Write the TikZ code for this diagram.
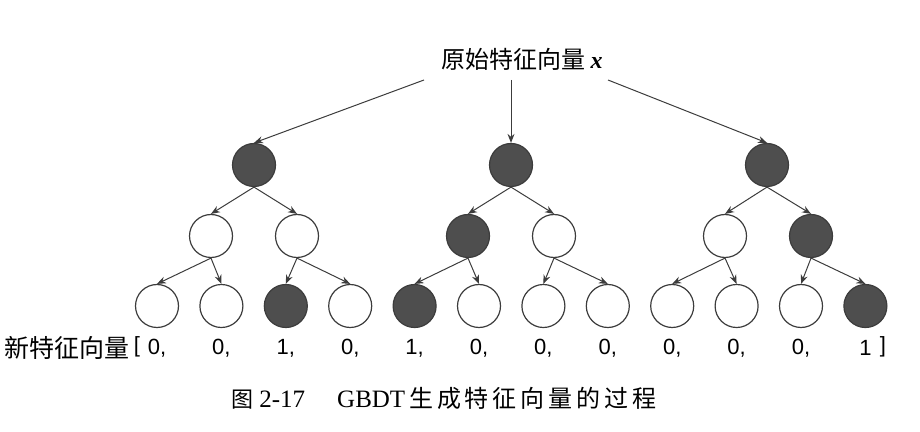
\documentclass[tikz,border=0pt]{standalone}
\usepackage{fontspec}
\setmainfont{Liberation Sans}
\newfontfamily\cjk{Noto Sans CJK SC}
\newfontfamily\cjkcap[LetterSpace=16]{Noto Sans CJK SC}
\newfontfamily\capserif{Liberation Serif}
\usetikzlibrary{arrows.meta}
\definecolor{nodegray}{RGB}{78,78,78}
\definecolor{linegray}{RGB}{60,60,60}
\tikzset{
  leaf/.style={circle,draw=linegray,line width=0.6pt,minimum size=21.5pt,inner sep=0pt},
  hit/.style={leaf,fill=nodegray},
  edge/.style={draw=linegray,line width=0.5pt,-{Stealth[length=4.5pt,width=3.5pt]}},
  val/.style={font=\fontsize{11}{13}\selectfont,inner sep=0pt}
}

\begin{document}
\begin{tikzpicture}[x=0.5pt,y=-0.5pt]
    \useasboundingbox (0,0) rectangle (920,432);
    % input vector
    \node[font=\cjk\fontsize{12}{14}\selectfont] (src) at (522,59) {原始特征向量 {\capserif\bfseries\itshape x}};
    \coordinate (in1) at (424,80);
    \coordinate (in2) at (511,80);
    \coordinate (in3) at (608,80);
    % trees
    \foreach \t/\rx in {1/254,2/511,3/767}
        \node[hit] (r\t) at (\rx,165) {};
    \foreach \i/\mx/\s in {1/211/leaf,2/297/leaf,3/468/hit,4/554/leaf,5/725/leaf,6/811/hit}
        \node[\s] (m\i) at (\mx,236) {};
    \foreach \i/\s/\v in {1/leaf/{0,},2/leaf/{0,},3/hit/{1,},4/leaf/{0,},5/hit/{1,},6/leaf/{0,},
                          7/leaf/{0,},8/leaf/{0,},9/leaf/{0,},10/leaf/{0,},11/leaf/{0,},12/hit/1}{
        \node[\s] (l\i) at ({157+64.4*(\i-1)},306) {};
        \node[val] (v\i) at ({157+64.4*(\i-1)},348) {\v};
    }
    % connectors
    \foreach \t in {1,2,3}
        \draw[edge] (in\t) -- (r\t.north);
    \foreach \a/\b in {r1/m1,r1/m2,r2/m3,r2/m4,r3/m5,r3/m6,
                       m1/l1,m1/l2,m2/l3,m2/l4,m3/l5,m3/l6,
                       m4/l7,m4/l8,m5/l9,m5/l10,m6/l11,m6/l12}
        \draw[edge] (\a.south) -- (\b.north);
    % new vector
    \node[font=\cjk\fontsize{12.5}{14}\selectfont,anchor=east,inner sep=0pt] (lab) at (130,348) {新特征向量};
    \node[val] (lb) at (137,347) {[};
    \node[val] (rb) at (883,347) {]};
    % caption
    \node[anchor=west,inner sep=0pt,font=\fontsize{12.5}{14}\selectfont] (cap) at (231,398)
        {{\cjk\fontsize{11}{13}\selectfont 图}\hspace{3pt}{\capserif 2-17}\hspace{16pt}{\capserif GBDT}\hspace{2pt}{\cjkcap\fontsize{12}{14}\selectfont 生成特征向量的过程}};
\end{tikzpicture}
\end{document}
